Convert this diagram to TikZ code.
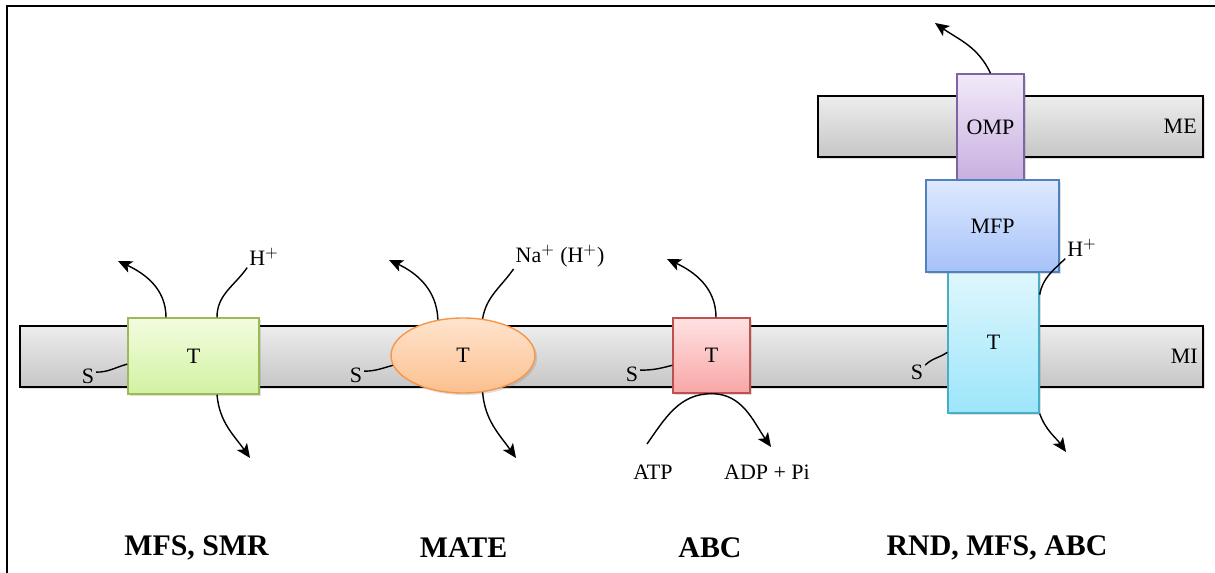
\documentclass[tikz,border=0pt]{standalone}
\usepackage{fontspec}
\setmainfont{Liberation Serif}
\usetikzlibrary{arrows.meta, calc, shapes.geometric, shadows}

% fills (light top -> darker bottom) and outlines
\definecolor{memtop}{HTML}{EDEDED}
\definecolor{membot}{HTML}{C6C6C6}
\definecolor{grnline}{HTML}{9BBB59}
\definecolor{grntop}{HTML}{F3FCDF}
\definecolor{grnbot}{HTML}{D2F2A2}
\definecolor{orgline}{HTML}{F79646}
\definecolor{orgtop}{HTML}{FFE4CE}
\definecolor{orgbot}{HTML}{FBC08E}
\definecolor{redline}{HTML}{C0504D}
\definecolor{redtop}{HTML}{FFE2E2}
\definecolor{redbot}{HTML}{F8A6A6}
\definecolor{cyanline}{HTML}{4BACC6}
\definecolor{cyantop}{HTML}{DFF7FD}
\definecolor{cyanbot}{HTML}{9CE5FB}
\definecolor{purline}{HTML}{8064A2}
\definecolor{purtop}{HTML}{F1EAF8}
\definecolor{purbot}{HTML}{C8AFE0}
\definecolor{bluline}{HTML}{4F81BD}
\definecolor{blutop}{HTML}{DEE9FF}
\definecolor{blubot}{HTML}{A6C2F8}

\begin{document}
\begin{tikzpicture}[
  arr/.style={-{Stealth[length=8pt, width=7pt, inset=2pt]}, line width=0.8pt},
  link/.style={line width=0.8pt},
  lab/.style={font=\fontsize{12.5}{15}\selectfont, inner sep=1pt},
  membrane/.style={draw, line width=0.9pt, top color=memtop, bottom color=membot,
        minimum height=1.22cm, inner sep=0pt,
        drop shadow={shadow xshift=1.2pt, shadow yshift=-1.2pt, opacity=0.25}},
  prot/.style={line width=0.8pt, inner sep=0pt, font=\fontsize{12.5}{15}\selectfont,
        drop shadow={shadow xshift=1.2pt, shadow yshift=-1.2pt, opacity=0.25}},
  family/.style={font=\bfseries\fontsize{17}{20}\selectfont}]

  \useasboundingbox (0,0) rectangle (24.3,11.46);

  % ----- frame -----
  \draw[line width=1.2pt] (0.14,0) -- (0.14,11.34) -- (24.3,11.34);

  % ----- membranes -----
  \node[membrane, minimum width=23.66cm] (mi) at (12.23,4.33) {};
  \node[membrane, minimum width=7.7cm] (me) at (20.21,8.93) {};
  \node[lab, anchor=east] (milab) at ($(mi.east)+(-0.08,0)$) {MI};
  \node[lab, anchor=east] (melab) at ($(me.east)+(-0.1,0)$) {ME};

  % ----- transporters -----
  \node[prot, draw=grnline, top color=grntop, bottom color=grnbot,
        minimum width=2.62cm, minimum height=1.52cm] (t1) at (3.87,4.34) {T};
  \node[prot, ellipse, draw=orgline, top color=orgtop, bottom color=orgbot,
        minimum width=2.88cm, minimum height=1.5cm] (t2) at (9.26,4.35) {T};
  \node[prot, draw=redline, top color=redtop, bottom color=redbot,
        minimum width=1.54cm, minimum height=1.5cm] (t3) at (14.23,4.35) {T};
  \node[prot, draw=cyanline, top color=cyantop, bottom color=cyanbot,
        minimum width=1.82cm, minimum height=2.82cm] (t4) at (19.87,4.61) {T};
  \node[prot, draw=purline, top color=purtop, bottom color=purbot,
        minimum width=1.34cm, minimum height=2.12cm] (omp) at (19.81,8.92) {OMP};
  \node[prot, draw=bluline, top color=blutop, bottom color=blubot,
        minimum width=2.66cm, minimum height=1.84cm] (mfp) at (19.85,6.94) {MFP};

  % ----- small labels -----
  \node[lab] (s1) at (1.76,3.94) {S};
  \node[lab] (s2) at (7.12,3.96) {S};
  \node[lab] (s3) at (12.64,3.98) {S};
  \node[lab] (s4) at (18.34,4.02) {S};
  \node[lab] (h1) at (5.28,6.32) {H$^{+}$};
  \node[lab] (na) at (11.2,6.34) {Na$^{+}$ (H$^{+}$)};
  \node[lab] (h4) at (21.64,6.5) {H$^{+}$};
  \node[lab] (atp) at (13.06,2.02) {ATP};
  \node[lab] (adp) at (15.34,2.02) {ADP + Pi};

  % ----- free arrow ends -----
  \coordinate (up1) at (2.36,6.24);
  \coordinate (dn1) at (5.0,2.3);
  \coordinate (up2) at (7.78,6.26);
  \coordinate (dn2) at (10.32,2.3);
  \coordinate (up3) at (13.34,6.28);
  \coordinate (atpin) at (12.94,2.58);
  \coordinate (adpout) at (15.42,2.52);
  \coordinate (up4) at (18.7,11.0);
  \coordinate (dn4) at (21.32,2.42);

  % ----- substrate links -----
  \draw[link] (s1.25) to[out=0, in=195] (t1.187);
  \draw[link] (s2.25) to[out=0, in=195] (t2.188);
  \draw[link] (s3.25) to[out=0, in=195] (t3.194);
  \draw[link] (s4.40) to[out=45, in=215] (t4.192);

  % ----- ion links -----
  \draw[link] (h1.south west) to[out=235, in=90] ($(t1.north)+(0.47,0)$);
  \draw[link] (na.south west) to[out=235, in=80] (t2.62);
  \draw[link] (h4.south west) to[out=225, in=80] (t4.46);

  % ----- efflux arrows -----
  \draw[arr] ($(t1.north)+(-0.55,0)$) to[out=90, in=-25] (up1);
  \draw[arr] ($(t1.south)+(0.47,0)$) to[out=-85, in=125] (dn1);
  \draw[arr] (t2.125) to[out=92, in=-25] (up2);
  \draw[arr] (t2.-62) to[out=-85, in=125] (dn2);
  \draw[arr] ($(t3.north)+(0.09,0)$) to[out=90, in=-25] (up3);
  \draw[arr] (atpin) to[out=55, in=180] (t3.south) to[out=0, in=125] (adpout);
  \draw[arr] (omp.north) to[out=115, in=-35] (up4);
  \draw[arr] (t4.south east) to[out=-70, in=125] (dn4);

  % ----- families -----
  \node[family] (fam1) at (3.93,0.5) {MFS, SMR};
  \node[family] (fam2) at (9.27,0.5) {MATE};
  \node[family] (fam3) at (14.2,0.5) {ABC};
  \node[family] (fam4) at (19.94,0.5) {RND, MFS, ABC};

\end{tikzpicture}
\end{document}
